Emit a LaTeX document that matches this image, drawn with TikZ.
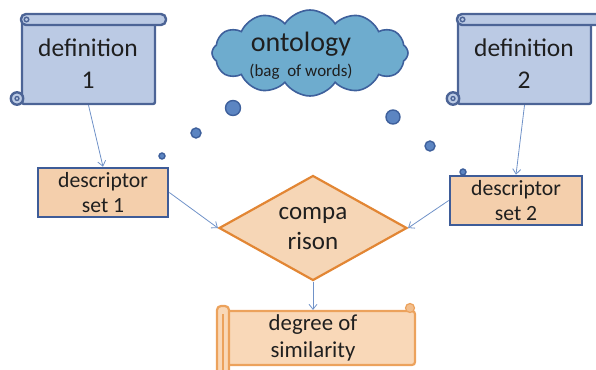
\documentclass[tikz,border=0pt]{standalone}
\usepackage{fontspec}
\setmainfont{Carlito}
\usetikzlibrary{shapes.geometric,shapes.symbols,arrows.meta}

\definecolor{defFill}{RGB}{187,202,228}
\definecolor{defLine}{RGB}{76,100,150}
\definecolor{cloudFill}{RGB}{110,172,206}
\definecolor{cloudLine}{RGB}{62,96,156}
\definecolor{bubbleFill}{RGB}{92,133,194}
\definecolor{descFill}{RGB}{244,207,172}
\definecolor{descLine}{RGB}{62,92,152}
\definecolor{cmpFill}{RGB}{246,214,182}
\definecolor{cmpLine}{RGB}{226,134,52}
\definecolor{degFill}{RGB}{249,216,184}
\definecolor{degLine}{RGB}{236,162,92}
\definecolor{arrowCol}{RGB}{112,146,200}

\tikzset{
  defbody/.style={draw=defLine, fill=defFill, line width=2.4pt, minimum width=133pt, minimum height=84pt, inner sep=0pt, rounded corners=2pt},
  defband/.style={draw=defLine, fill=defFill, line width=2.4pt, rounded corners=5pt},
  defroll/.style={draw=defLine, fill=defFill, line width=2.4pt},
  desc/.style={draw=descLine, fill=descFill, line width=2.6pt, minimum width=130pt, minimum height=49pt, inner sep=0pt},
  cmpbox/.style={diamond, draw=cmpLine, fill=cmpFill, line width=2.2pt, minimum width=188pt, minimum height=105pt, aspect=1.8, inner sep=0pt},
  degbody/.style={draw=degLine, fill=degFill, line width=2.2pt, minimum width=188pt, minimum height=54pt, inner sep=0pt, rounded corners=3pt},
  degband/.style={draw=degLine, fill=degFill, line width=2.2pt, rounded corners=4pt},
  bubble/.style={draw=cloudLine, fill=bubbleFill, line width=1.4pt},
  label/.style={align=center, inner sep=0pt, text=black!88},
  arr/.style={draw=arrowCol, line width=0.8pt, -{Straight Barb[length=5pt,width=8pt]}},
}

\begin{document}
\begin{tikzpicture}[x=1pt,y=-1pt]
\useasboundingbox (0,0) rectangle (596,369);

% left definition scroll
\node[defbody] (def1) at (88.5,62) {};
\draw[defband] (21,14) rectangle (166,25);
\draw[defLine, line width=1.4pt] (26.5,19.5) circle (2.3);
\draw[defroll] (17,98.5) circle (6.2);
\draw[defLine, line width=1.3pt] (17,98.5) circle (2);
\node[label, font=\fontsize{25.5}{32}\selectfont] (def1text) at (88,64) {definition\\1};

% right definition scroll
\node[defbody] (def2) at (524.5,62) {};
\draw[defband] (457,14) rectangle (602,25);
\draw[defLine, line width=1.4pt] (462.5,19.5) circle (2.3);
\draw[defroll] (453,98.5) circle (6.2);
\draw[defLine, line width=1.3pt] (453,98.5) circle (2);
\node[label, font=\fontsize{25.5}{32}\selectfont] (def2text) at (524,64) {definition\\2};

% thought cloud with its bubbles
\node[cloud, cloud puffs=12, cloud puff arc=115, aspect=2.3, draw=cloudLine, fill=cloudFill, line width=1.6pt, minimum width=196pt, minimum height=86pt] (onto) at (310,53) {};
\node[label, font=\fontsize{28}{30}\selectfont] (ontotext) at (301,44) {ontology};
\node[label, font=\fontsize{17}{20}\selectfont] (bagtext) at (301,72) {(bag\ \ of words)};
\draw[bubble] (233,108) circle (7.5);
\draw[bubble] (196,133) circle (5);
\draw[bubble] (162,156) circle (3);
\draw[bubble] (393,117) circle (7);
\draw[bubble] (430,146) circle (5);
\draw[bubble] (463,172) circle (3);

% descriptor sets
\node[desc] (desc1) at (103,192.5) {};
\node[label, font=\fontsize{21.7}{25}\selectfont] (desc1text) at (103,193) {descriptor\\set 1};
\node[desc, minimum width=132pt] (desc2) at (516,200.5) {};
\node[label, font=\fontsize{21.7}{25}\selectfont] (desc2text) at (516,201) {descriptor\\set 2};

% comparison
\node[cmpbox] (cmp) at (313,228) {};
\node[label, font=\fontsize{25}{30}\selectfont] (cmptext) at (313,229) {compa\\rison};

% degree of similarity scroll
\node[degbody] (deg) at (321,338) {};
\draw[degband] (217,306) rectangle (229,375);
\draw[degLine, line width=1.2pt] (223,314) -- (223,375);
\draw[degLine, fill=degLine!70, line width=1.2pt] (410,308) circle (4.5);
\node[label, font=\fontsize{22.8}{27}\selectfont] (degtext) at (313,338) {degree\ of\\similarity};

% connectors
\draw[arr] (def1.south) -- (desc1.north);
\draw[arr] (def2.south) -- (desc2.north);
\draw[arr] (desc1.east) -- (cmp.west);
\draw[arr] (desc2.west) -- (cmp.east);
\draw[arr] (cmp.south) -- (cmp.south |- deg.north);
\end{tikzpicture}
\end{document}
